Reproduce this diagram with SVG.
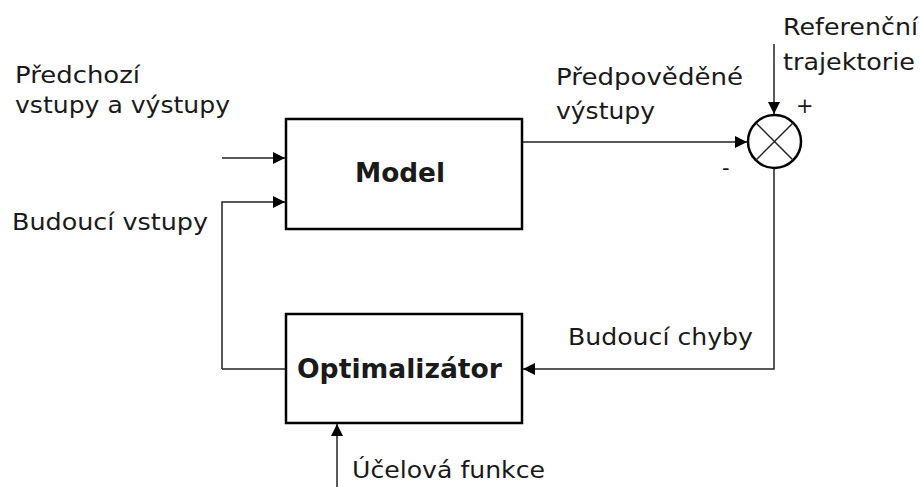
<svg xmlns="http://www.w3.org/2000/svg" width="920" height="487" viewBox="0 0 920 487">
<style>
text{font-family:"DejaVu Sans","Noto Sans",sans-serif;font-size:23px;fill:#1a1a1a}
.b{font-weight:bold;font-size:26px}
.box{fill:none;stroke:#000;stroke-width:2.5}
.ln{fill:none;stroke:#222;stroke-width:1.5}
</style>
<defs>
<marker id="ah" viewBox="0 0 10 10" refX="10" refY="5" markerWidth="12" markerHeight="12" markerUnits="userSpaceOnUse" orient="auto">
<path d="M0,0L10,5L0,10z" fill="#000"/>
</marker>
</defs>
<rect width="920" height="487" fill="#fff"/>
<g id="connectors">
<path class="ln" d="M222,158H285" marker-end="url(#ah)"/>
<path class="ln" d="M222,369V202H285" marker-end="url(#ah)"/>
<path class="ln" d="M285,369H222"/>
<path class="ln" d="M522,142H747" marker-end="url(#ah)"/>
<path class="ln" d="M774,44V114" marker-end="url(#ah)"/>
<path class="ln" d="M774,168V369H523" marker-end="url(#ah)"/>
<path class="ln" d="M337,487V424" marker-end="url(#ah)"/>
</g>
<g id="model">
<rect class="box" x="286" y="119" width="236" height="110"/>
<text class="b" x="355" y="182" textLength="90" lengthAdjust="spacingAndGlyphs">Model</text>
</g>
<g id="optimalizator">
<rect class="box" x="286" y="314" width="236" height="109"/>
<text class="b" x="297" y="378" textLength="205" lengthAdjust="spacingAndGlyphs">Optimalizátor</text>
</g>
<g id="sum">
<circle cx="774.5" cy="141.5" r="26.5" fill="#fff" stroke="#000" stroke-width="2.5"/>
<path d="M755.8,122.8L793.2,160.2M793.2,122.8L755.8,160.2" stroke="#222" stroke-width="1.5"/>
</g>
<g id="labels">
<text x="15" y="83" textLength="125" lengthAdjust="spacingAndGlyphs">Předchozí</text>
<text x="15" y="113" textLength="215" lengthAdjust="spacingAndGlyphs">vstupy a výstupy</text>
<text x="12" y="230" textLength="196" lengthAdjust="spacingAndGlyphs">Budoucí vstupy</text>
<text x="556" y="85" textLength="187" lengthAdjust="spacingAndGlyphs">Předpověděné</text>
<text x="556" y="119" textLength="99" lengthAdjust="spacingAndGlyphs">výstupy</text>
<text x="783" y="35" textLength="135" lengthAdjust="spacingAndGlyphs">Referenční</text>
<text x="783" y="70" textLength="132" lengthAdjust="spacingAndGlyphs">trajektorie</text>
<text x="796" y="113" style="font-size:21px">+</text>
<text x="722" y="175" style="font-size:21px">-</text>
<text x="568" y="345" textLength="185" lengthAdjust="spacingAndGlyphs">Budoucí chyby</text>
<text x="352" y="478" textLength="193" lengthAdjust="spacingAndGlyphs">Účelová funkce</text>
</g>
</svg>
